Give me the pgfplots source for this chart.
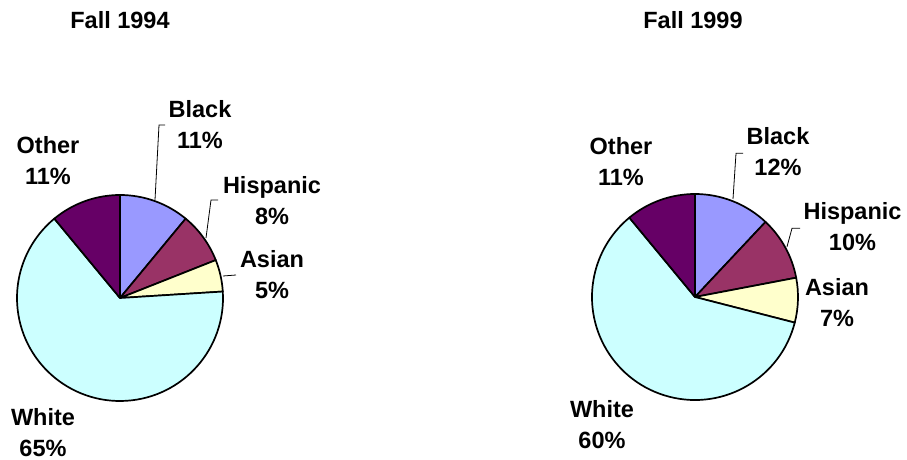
\documentclass[border=0pt]{standalone}
\usepackage{pgfplots}
\pgfplotsset{compat=1.18}
\usepackage{pgfplotstable}
\usepackage{fontspec}
\setmainfont{Liberation Sans}

\definecolor{c0}{HTML}{9999FF}
\definecolor{c1}{HTML}{993366}
\definecolor{c2}{HTML}{FFFFCC}
\definecolor{c3}{HTML}{CCFFFF}
\definecolor{c4}{HTML}{660066}

\pgfplotstableread{
label pct
Black 11
Hispanic 8
Asian 5
White 65
Other 11
}\dataA
\pgfplotstableread{
label pct
Black 12
Hispanic 10
Asian 7
White 60
Other 11
}\dataB

% #1 table, #2 cx, #3 cy (axis units = bp)
\newcommand\piechart[3]{%
  \def\cum{0}%
  \pgfplotsforeachungrouped \i in {0,...,4}{%
    \pgfplotstablegetelem{\i}{pct}\of#1%
    \let\p\pgfplotsretval
    \pgfmathsetmacro\a{90-3.6*\cum}%
    \pgfmathsetmacro\b{90-3.6*(\cum+\p)}%
    \pgfmathsetmacro\cum{\cum+\p}%
    \edef\tmp{\noexpand\filldraw[fill=c\i, draw=black, line width=1.7bp, line join=round]
      (axis cs:#2,#3) -- ++(\a:103bp) arc[start angle=\a, end angle=\b, radius=103bp] -- cycle;}%
    \tmp
  }%
}

\begin{document}
\begin{tikzpicture}
\useasboundingbox (0,0) rectangle (907bp,460bp);
\begin{axis}[at={(0,0)}, anchor=south west, scale only axis,
  width=907bp, height=460bp, xmin=0, xmax=907, ymin=0, ymax=460,
  hide axis, clip=false]
\piechart{\dataA}{120}{162}
\piechart{\dataB}{695}{163}

\tikzset{lbl/.style={font=\fontsize{23.5bp}{31bp}\selectfont\bfseries, align=center, inner sep=0pt}}
\tikzset{lead/.style={draw=black, line width=0.8bp}}

% titles
\node[lbl] at (axis cs:120,439.5) {Fall 1994};
\node[lbl] at (axis cs:693,439.5) {Fall 1999};

% left pie labels
\node[lbl] at (axis cs:200,335) {Black\\11\%};
\node[lbl] at (axis cs:48,299) {Other\\11\%};
\node[lbl] at (axis cs:272,259.5) {Hispanic\\8\%};
\node[lbl] at (axis cs:272,185.5) {Asian\\5\%};
\node[lbl] at (axis cs:43,27.5) {White\\65\%};
\draw[lead] (axis cs:165,335) -- (axis cs:159,335) -- (axis cs:155,260);
\draw[lead] (axis cs:218,260) -- (axis cs:211,260) -- (axis cs:206,222);
\draw[lead] (axis cs:223,184) -- (axis cs:236,185);

% right pie labels
\node[lbl] at (axis cs:778,308) {Black\\12\%};
\node[lbl] at (axis cs:621,298) {Other\\11\%};
\node[lbl] at (axis cs:852.5,233) {Hispanic\\10\%};
\node[lbl] at (axis cs:837,157.5) {Asian\\7\%};
\node[lbl] at (axis cs:602,35.5) {White\\60\%};
\draw[lead] (axis cs:743,306.7) -- (axis cs:736,306.7) -- (axis cs:733,261);
\draw[lead] (axis cs:800,231.7) -- (axis cs:792,231.7) -- (axis cs:787,213.3);
\end{axis}
\end{tikzpicture}
\end{document}
